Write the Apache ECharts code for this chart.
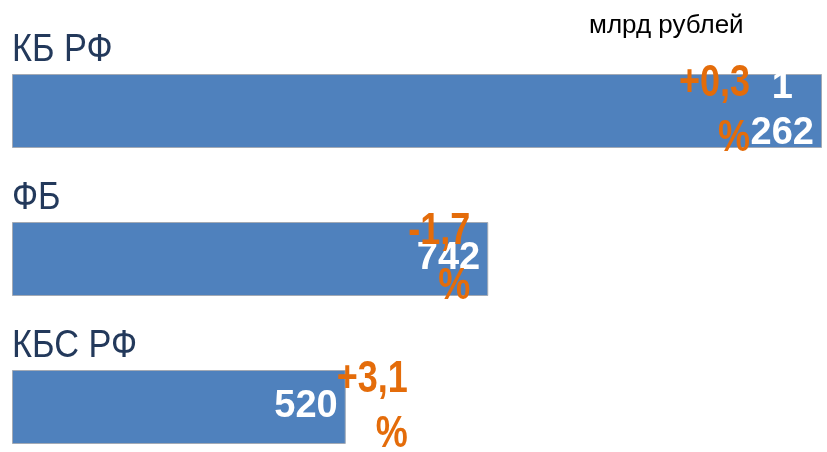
<!DOCTYPE html>
<html>
<head>
<meta charset="utf-8">
<script src="https://cdn.jsdelivr.net/npm/echarts@6/dist/echarts.min.js"></script>
<style>
  html, body { margin: 0; padding: 0; background: #fff; }
  #chart { width: 827px; height: 452px; }
</style>
</head>
<body>
<div id="chart"></div>
<script>
// budgets, bln rub
const categories = ['КБ РФ', 'ФБ', 'КБС РФ']
const amounts = [1262, 742, 520]
const changes = [0.3, -1.7, 3.1]

// horizontal nudge of the orange % labels, as placed on the slide
const changeShift = [-72, -18, 62]

const sans = '"Liberation Sans", Arial, sans-serif'
const orange = '#E46C0A'
const barW = 74

function fmtAmount(v) {
  if (v >= 1000) {
    return '{v|' + Math.floor(v / 1000) + '}\n{v|' + String(v % 1000).padStart(3, '0') + '}'
  }
  return '{v|' + v + '}'
}

function fmtChange(v) {
  return (v > 0 ? '+' : '') + v.toFixed(1).replace('.', ',') + '\n%'
}

const chart = echarts.init(document.getElementById('chart'))

chart.setOption({
  animation: false,
  title: {
    text: 'млрд рублей',
    left: 584,
    top: 8,
    textStyle: {
      fontFamily: sans,
      fontWeight: 'normal',
      fontSize: 26,
      color: '#000'
    }
  },
  grid: {
    left: 12,
    top: 111,
    width: 810,
    height: 296
  },
  xAxis: {
    type: 'value',
    min: 0,
    max: 1262,
    show: false
  },
  yAxis: {
    type: 'category',
    data: categories,
    inverse: true,
    boundaryGap: false,
    show: false
  },
  series: [
    {
      type: 'bar',
      barWidth: barW,
      clip: false,
      data: amounts,
      itemStyle: {
        color: '#4F81BD',
        borderColor: '#A3AAB5',
        borderWidth: 1
      },
      label: {
        show: true,
        position: 'insideRight',
        distance: 8,
        formatter: p => fmtAmount(p.value),
        rich: {
          v: {
            align: 'center',
            color: '#fff',
            fontFamily: sans,
            fontWeight: 'bold',
            fontSize: 38,
            lineHeight: 46
          }
        }
      }
    },
    {
      // category captions above each bar (narrowed like the slide font)
      type: 'custom',
      clip: false,
      silent: true,
      data: categories.map((c, i) => [0, i]),
      renderItem: (params, api) => {
        const i = api.value(1)
        const p = api.coord([0, i])
        return {
          type: 'text',
          x: p[0],
          y: p[1] - barW / 2 - 24,
          scaleX: 0.88,
          style: {
            text: categories[i],
            font: '39px ' + sans,
            fill: '#23395B',
            align: 'left',
            textAlign: 'left',
            verticalAlign: 'middle',
            textVerticalAlign: 'middle'
          }
        }
      }
    },
    {
      // change vs previous year, orange
      type: 'custom',
      clip: false,
      silent: true,
      z: 5,
      data: amounts.map((v, i) => [v, i, changes[i]]),
      renderItem: (params, api) => {
        const i = api.value(1)
        const p = api.coord([api.value(0), i])
        return {
          type: 'text',
          x: p[0] + changeShift[i],
          y: p[1],
          scaleX: 0.8,
          style: {
            text: fmtChange(api.value(2)),
            font: 'bold 45px ' + sans,
            fill: orange,
            lineHeight: 55,
            align: 'right',
            textAlign: 'right',
            verticalAlign: 'middle',
            textVerticalAlign: 'middle'
          }
        }
      }
    }
  ]
})
</script>
</body>
</html>
